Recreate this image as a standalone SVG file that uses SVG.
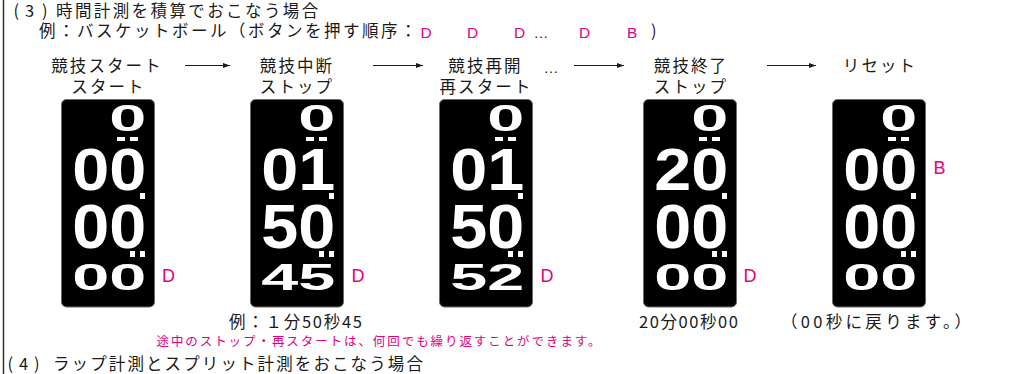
<svg xmlns="http://www.w3.org/2000/svg" width="1016" height="374" viewBox="0 0 1016 374">
<style>
.jp{font-family:"Noto Sans CJK JP","Noto Sans CJK SC",sans-serif;font-size:16.5px;fill:#1a1a1a}
.l1{letter-spacing:2.4px}
.l2{letter-spacing:2.5px}
.l4{letter-spacing:2.1px}
.lbl{font-family:"Noto Sans CJK JP","Noto Sans CJK SC",sans-serif;font-size:16.5px;fill:#1a1a1a;letter-spacing:2.1px;text-anchor:middle}
.bt{font-family:"Noto Sans CJK JP","Noto Sans CJK SC",sans-serif;font-size:16.5px;fill:#1a1a1a}
.note{font-family:"Noto Sans CJK JP","Noto Sans CJK SC",sans-serif;font-size:12.5px;fill:#e4007f}
.pk{font-family:"Liberation Sans",Arial,sans-serif;fill:#e4007f;letter-spacing:0;font-size:15.5px}
.pkb{font-family:"Liberation Sans",Arial,sans-serif;fill:#e4007f;font-size:18px}
.el{font-family:"Liberation Sans",Arial,sans-serif;fill:#1a1a1a;letter-spacing:0;font-size:15px}
.dg{font-family:"Liberation Sans",Arial,sans-serif;font-weight:bold;fill:#fff}
.ra{font-size:37.4px}
.rb{font-size:60px}
.rc{font-size:63px}
.rd{font-size:36.5px}
.panel{fill:#000;stroke:#6b6b6b;stroke-width:1}
.dot{fill:#fff}
.arr{stroke:#1a1a1a;stroke-width:1.2;fill:none;marker-end:url(#ah)}
</style>
<defs>
<marker id="ah" markerWidth="7" markerHeight="6" refX="7" refY="3" orient="auto" markerUnits="userSpaceOnUse">
<path d="M0,0.5 L7,3 L0,5.5 z" fill="#1a1a1a"/>
</marker>
<g id="pbase">
<rect class="panel" x="0.5" y="99.5" width="93" height="207.5" rx="5"/>
<rect class="dot" x="56" y="137" width="8" height="4"/>
<rect class="dot" x="69" y="137" width="8" height="4"/>
<rect class="dot" x="79" y="193" width="5" height="6"/>
<rect class="dot" x="69" y="251" width="5" height="6"/>
<rect class="dot" x="79" y="251" width="5" height="6"/>
</g>
</defs>
<rect width="1016" height="374" fill="#fff"/>
<line x1="3.5" y1="0" x2="3.5" y2="374" stroke="#333" stroke-width="1.5"/>

<g id="header">
<text class="jp l1" x="13.5 25 42 56" y="17">(3)時間計測を積算でおこなう場合</text>
<text class="jp l2" y="37"><tspan x="39">例：バスケットボール（ボタンを押す順序：</tspan><tspan class="pk" x="420.5" y="37.7">D</tspan><tspan class="pk" x="467" y="37.7">D</tspan><tspan class="pk" x="514" y="37.7">D</tspan><tspan class="el" x="533.5" y="37.7">…</tspan><tspan class="pk" x="579" y="37.7">D</tspan><tspan class="pk" x="627" y="37.7">B</tspan><tspan x="651" y="37">)</tspan></text>
</g>

<g id="label1"><text class="lbl" x="107" y="72">競技スタート</text><text class="lbl" x="108.5" y="93">スタート</text></g>
<g id="label2"><text class="lbl" x="297" y="72">競技中断</text><text class="lbl" x="297" y="93">ストップ</text></g>
<g id="label3"><text class="lbl" x="485.5" y="72">競技再開</text><text class="lbl" x="486" y="93">再スタート</text></g>
<g id="label4"><text class="lbl" x="691" y="72">競技終了</text><text class="lbl" x="691" y="93">ストップ</text></g>
<g id="label5"><text class="lbl" x="880" y="72">リセット</text></g>
<text class="el" x="543.5" y="72.5" font-size="16">…</text>

<g id="connectors">
<path class="arr" d="M185 65.5 H230"/>
<path class="arr" d="M373 65.5 H423"/>
<path class="arr" d="M574 65.5 H624"/>
<path class="arr" d="M767 65.5 H816"/>
</g>

<g id="panel1" transform="translate(61,0)">
<use href="#pbase"/>
<text class="dg ra" x="48.2" y="131" textLength="37" lengthAdjust="spacingAndGlyphs">0</text>
<text class="dg rb" x="11.2" y="189.5" textLength="74" lengthAdjust="spacingAndGlyphs">00</text>
<text class="dg rc" x="11.2" y="247.5" textLength="74" lengthAdjust="spacingAndGlyphs">00</text>
<text class="dg rd" x="11.2" y="289.5" textLength="74" lengthAdjust="spacingAndGlyphs">00</text>
</g>
<g id="panel2" transform="translate(250,0)">
<use href="#pbase"/>
<text class="dg ra" x="48.2" y="131" textLength="37" lengthAdjust="spacingAndGlyphs">0</text>
<text class="dg rb" x="11.2" y="189.5" textLength="74" lengthAdjust="spacingAndGlyphs">01</text>
<text class="dg rc" x="11.2" y="247.5" textLength="74" lengthAdjust="spacingAndGlyphs">50</text>
<text class="dg rd" x="11.2" y="289.5" textLength="74" lengthAdjust="spacingAndGlyphs">45</text>
</g>
<g id="panel3" transform="translate(439,0)">
<use href="#pbase"/>
<text class="dg ra" x="48.2" y="131" textLength="37" lengthAdjust="spacingAndGlyphs">0</text>
<text class="dg rb" x="11.2" y="189.5" textLength="74" lengthAdjust="spacingAndGlyphs">01</text>
<text class="dg rc" x="11.2" y="247.5" textLength="74" lengthAdjust="spacingAndGlyphs">50</text>
<text class="dg rd" x="11.2" y="289.5" textLength="74" lengthAdjust="spacingAndGlyphs">52</text>
</g>
<g id="panel4" transform="translate(643,0)">
<use href="#pbase"/>
<text class="dg ra" x="48.2" y="131" textLength="37" lengthAdjust="spacingAndGlyphs">0</text>
<text class="dg rb" x="11.2" y="189.5" textLength="74" lengthAdjust="spacingAndGlyphs">20</text>
<text class="dg rc" x="11.2" y="247.5" textLength="74" lengthAdjust="spacingAndGlyphs">00</text>
<text class="dg rd" x="11.2" y="289.5" textLength="74" lengthAdjust="spacingAndGlyphs">00</text>
</g>
<g id="panel5" transform="translate(832,0)">
<use href="#pbase"/>
<text class="dg ra" x="48.2" y="131" textLength="37" lengthAdjust="spacingAndGlyphs">0</text>
<text class="dg rb" x="11.2" y="189.5" textLength="74" lengthAdjust="spacingAndGlyphs">00</text>
<text class="dg rc" x="11.2" y="247.5" textLength="74" lengthAdjust="spacingAndGlyphs">00</text>
<text class="dg rd" x="11.2" y="289.5" textLength="74" lengthAdjust="spacingAndGlyphs">00</text>
</g>

<g id="keys">
<text class="pkb" x="162" y="281.7">D</text>
<text class="pkb" x="351.5" y="281.7">D</text>
<text class="pkb" x="540.5" y="281.7">D</text>
<text class="pkb" x="743.5" y="281.7">D</text>
<text class="pkb" x="933.5" y="174">B</text>
</g>

<g id="captions">
<text class="bt" x="229" y="328" textLength="133" lengthAdjust="spacing">例：１分50秒45</text>
<text class="bt" x="639" y="328" textLength="99" lengthAdjust="spacing">20分00秒00</text>
<text class="bt" x="781" y="328" textLength="190" lengthAdjust="spacing">（00秒に戻ります。）</text>
<text class="note" x="156.5" y="345.5" textLength="444" lengthAdjust="spacing">途中のストップ・再スタートは、何回でも繰り返すことができます。</text>
<text class="jp l4" x="7.5 19 34 53" y="369.5">(4)ラップ計測とスプリット計測をおこなう場合</text>
</g>
</svg>
